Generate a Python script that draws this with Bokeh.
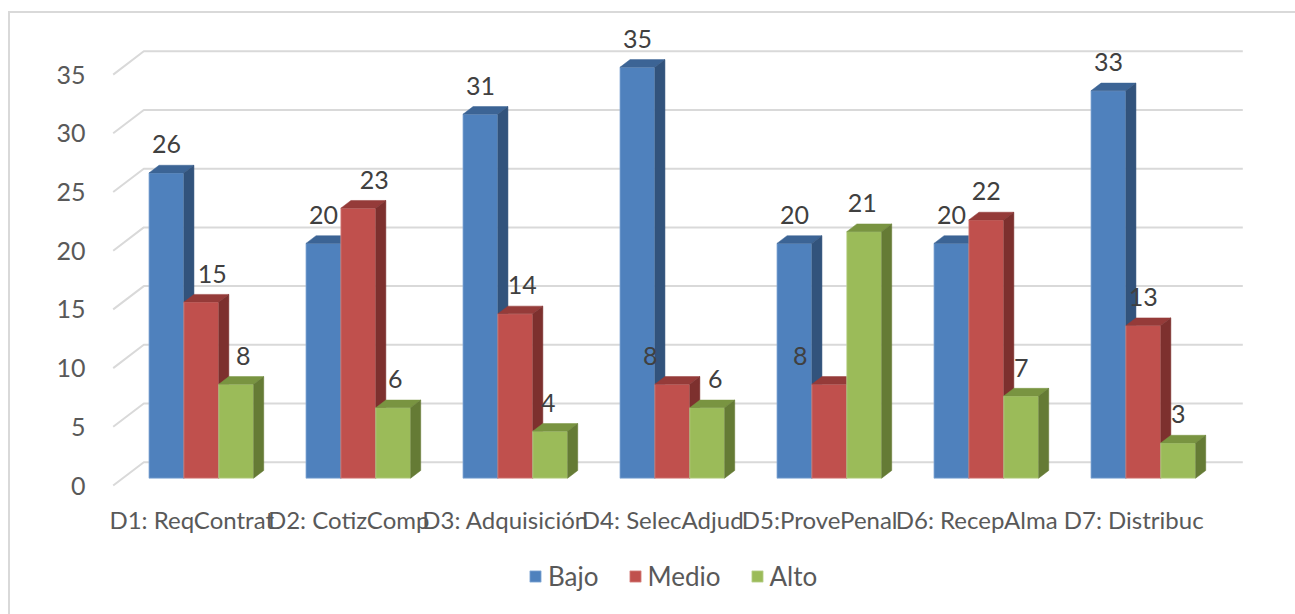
from bokeh.plotting import figure
from bokeh.models import FixedTicker, Range1d, Legend, LegendItem
from bokeh.core.properties import value
from bokeh.embed import file_html
from bokeh.resources import INLINE

# ---------------- data ----------------
categories = ["D1: ReqContrat", "D2: CotizComp", "D3: Adquisición", "D4: SelecAdjud",
              "D5:ProvePenal", "D6: RecepAlma", "D7: Distribuc"]
series_names = ["Bajo", "Medio", "Alto"]
bajo = [26, 20, 31, 35, 20, 20, 33]
medio = [15, 23, 14, 8, 8, 22, 13]
alto = [8, 6, 4, 6, 21, 7, 3]
y_ticks = [0, 5, 10, 15, 20, 25, 30, 35]

# ---------------- style / geometry ----------------
FONT = "Lato"
AXIS_TEXT = "#595959"
LABEL_TEXT = "#404040"
GRID = "#d9d9d9"
front_colors = ["#4F81BD", "#C0504D", "#9BBB59"]
top_colors = ["#3C6495", "#953B39", "#799441"]
side_colors = ["#32537C", "#7D302E", "#657B35"]
edge_colors = ["#8DB0DA", "#DA8E8C", "#C1D698"]

PX_X = 157.0      # px per category
PX_Y = 11.74      # px per value unit
DXA = 30.6 / PX_X   # full depth shift (x, data units)
DYA = 23.3 / PX_Y   # full depth shift (y, data units)
Z0 = 7.3 / 23.3     # bar front depth fraction
Z1 = 15.0 / 23.3    # bar back depth fraction
BW = 1 / 4.5        # bar width (gap width 150 %)
HALF_GAP = 0.75 / 4.5
LABEL_LIFT = 28.5 / PX_Y
CAT_LABEL_DROP = 34.0 / PX_Y   # category labels sit below the front floor edge
# label nudges (px) per series, per category, as placed in the reference
label_nudge_px = [
    [0, 0, 0, 0, 0, 0, 0],
    [11, 16, 7, -22, -29, 0, 0],
    [7, 2, -2, 8, -2, 0, 0],
]

X_ORIGIN = 191.2  # page x of the first category centre on the front plane


def scr(x, y, z):
    return x + z * DXA, y + z * DYA


n = len(categories)
series = [bajo, medio, alto]

p = figure(frame_width=1160, frame_height=594,
           x_range=Range1d((100 - X_ORIGIN) / PX_X, (1260 - X_ORIGIN) / PX_X),
           y_range=Range1d((485 - 614) / PX_Y, (485 - 20) / PX_Y),
           x_axis_location=None,
           output_backend="svg", toolbar_location=None,
           min_border_left=90, min_border_right=35, min_border_top=7,
           min_border_bottom=0)
p.margin = (11, 0, 0, 8)
p.styles = {"border-top": "2px solid #d9d9d9", "border-left": "2px solid #d9d9d9"}
p.outline_line_color = None
p.xgrid.visible = False
p.ygrid.visible = False
p.background_fill_color = "white"
p.border_fill_color = "white"

# ---------------- walls / gridlines ----------------
gx, gy = [], []
for v in y_ticks:
    a = scr(-0.5, v, 0.0)
    b = scr(-0.5, v, 1.0)
    c = scr(n - 0.5, v, 1.0)
    gx.append([a[0], b[0], c[0]])
    gy.append([a[1], b[1], c[1]])
p.multi_line(gx, gy, line_color=GRID, line_width=2)

# ---------------- 3D bars ----------------
front_renderers = []
for s, vals in enumerate(series):
    lefts, rights, bottoms, tops = [], [], [], []
    txs, tys, sxs, sys_ = [], [], [], []
    for i, v in enumerate(vals):
        x0 = i - 0.5 + HALF_GAP + s * BW
        x1 = x0 + BW
        fl = scr(x0, 0, Z0)
        ft = scr(x1, v, Z0)
        lefts.append(fl[0]); rights.append(ft[0])
        bottoms.append(fl[1]); tops.append(ft[1])
        pts = [scr(x0, v, Z0), scr(x1, v, Z0), scr(x1, v, Z1), scr(x0, v, Z1)]
        txs.append([q[0] for q in pts]); tys.append([q[1] for q in pts])
        pts = [scr(x1, 0, Z0), scr(x1, v, Z0), scr(x1, v, Z1), scr(x1, 0, Z1)]
        sxs.append([q[0] for q in pts]); sys_.append([q[1] for q in pts])
    r = p.quad(left=lefts, right=rights, bottom=bottoms, top=tops,
               fill_color=front_colors[s], line_color=edge_colors[s],
               line_width=1, line_alpha=0.7)
    front_renderers.append(r)
    p.patches(txs, tys, fill_color=top_colors[s], line_color=top_colors[s], line_width=0.5)
    p.patches(sxs, sys_, fill_color=side_colors[s], line_color=side_colors[s], line_width=0.5)

# ---------------- data labels ----------------
lx, ly, lt = [], [], []
for s, vals in enumerate(series):
    for i, v in enumerate(vals):
        xc = i - 0.5 + HALF_GAP + (s + 0.5) * BW
        pt = scr(xc, v, Z0)
        lx.append(pt[0] + label_nudge_px[s][i] / PX_X)
        ly.append(pt[1] + LABEL_LIFT)
        lt.append(str(v))
p.text(lx, ly, text=lt, text_align="center", text_baseline="alphabetic",
       text_font=value(FONT), text_font_size="25px", text_color=LABEL_TEXT)

# ---------------- category labels (front floor edge) ----------------
cx = [scr(i, 0, 0.0)[0] for i in range(n)]
cy = [-CAT_LABEL_DROP] * n
p.text(cx, cy, text=categories, text_align="center", text_baseline="middle",
       text_font=value(FONT), text_font_size="24px", text_color=AXIS_TEXT)

# ---------------- value axis ----------------
p.yaxis.ticker = FixedTicker(ticks=y_ticks)
ax = p.yaxis[0]
ax.axis_line_color = None
ax.major_tick_line_color = None
ax.minor_tick_line_color = None
ax.major_tick_out = 0
ax.major_tick_in = 0
ax.major_label_text_font = FONT
ax.major_label_text_color = AXIS_TEXT
ax.major_label_text_font_size = "25px"
ax.major_label_standoff = 15

# ---------------- legend ----------------
legend = Legend(items=[LegendItem(label=series_names[k], renderers=[front_renderers[k]])
                       for k in range(3)],
                orientation="horizontal", location=(428, 22),
                border_line_color=None, background_fill_alpha=0,
                label_text_font=FONT, label_text_font_size="26px",
                label_text_color=AXIS_TEXT, glyph_width=14, glyph_height=14,
                label_standoff=6, spacing=29, margin=0, padding=0)
p.add_layout(legend)

open("out.html", "w").write(file_html(p, INLINE))
